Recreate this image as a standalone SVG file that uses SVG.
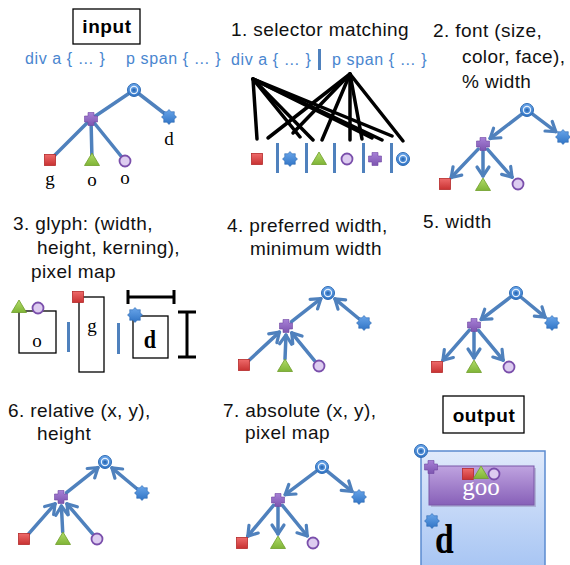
<svg xmlns="http://www.w3.org/2000/svg" width="570" height="565" viewBox="0 0 570 565">
<defs>
<style>
.h{font-family:"Liberation Sans",Arial,sans-serif;font-size:19px;letter-spacing:0.4px;fill:#111}
.b{font-family:"Liberation Sans",Arial,sans-serif;font-size:19px;font-weight:bold;letter-spacing:0.6px;fill:#000;text-anchor:middle}
.sel{font-family:"Liberation Sans",Arial,sans-serif;font-size:16px;letter-spacing:0.6px;fill:#4a86cf}
.lbl{font-family:"Liberation Serif","Times New Roman",serif;font-size:19px;fill:#000;text-anchor:middle}
.e{stroke:#4f81bd;stroke-width:3.5;fill:none;stroke-linecap:round}
.ea{marker-end:url(#ah)}
.m{stroke:#000;stroke-width:3.5;stroke-linecap:round}
.bar{fill:#4f81bd}
.box{fill:#fff;stroke:#000;stroke-width:1.3}
</style>
<marker id="ah" markerUnits="userSpaceOnUse" markerWidth="16" markerHeight="16" refX="12" refY="8" orient="auto" overflow="visible"><path d="M3,2 L12,8 L3,14" fill="none" stroke="#4f81bd" stroke-width="3.2" stroke-linecap="round" stroke-linejoin="round"/></marker>
<linearGradient id="gsq" x1="0" y1="0" x2="0" y2="1"><stop offset="0" stop-color="#ee6a6a"/><stop offset="1" stop-color="#c83232"/></linearGradient>
<linearGradient id="gtr" x1="0" y1="0" x2="0" y2="1"><stop offset="0" stop-color="#b2dc6a"/><stop offset="1" stop-color="#7fb436"/></linearGradient>
<linearGradient id="gcr" x1="0" y1="0" x2="0" y2="1"><stop offset="0" stop-color="#a780d6"/><stop offset="1" stop-color="#7d55b0"/></linearGradient>
<linearGradient id="gst" x1="0" y1="0" x2="0" y2="1"><stop offset="0" stop-color="#6aa6ea"/><stop offset="1" stop-color="#2f73c4"/></linearGradient>
<linearGradient id="gb" x1="0" y1="0" x2="0" y2="1"><stop offset="0" stop-color="#e0eafb"/><stop offset="1" stop-color="#a6c4f3"/></linearGradient>
<linearGradient id="gp" x1="0" y1="0" x2="0" y2="1"><stop offset="0" stop-color="#bfa3e0"/><stop offset="1" stop-color="#8760b8"/></linearGradient>
<g id="sq"><rect x="-5.5" y="-5.5" width="11" height="11" fill="url(#gsq)" stroke="#b52a2a" stroke-width="0.8"/></g>
<g id="tri"><polygon points="0,-7 7.5,5.5 -7.5,5.5" fill="url(#gtr)" stroke="#6e9e2a" stroke-width="0.8"/></g>
<g id="cir"><circle r="5.5" fill="#ddccf0" stroke="#7a4fab" stroke-width="1.8"/></g>
<g id="crs"><path d="M-3,-6.5 h6 v3.5 h3.5 v6 h-3.5 v3.5 h-6 v-3.5 h-3.5 v-6 h3.5z" fill="url(#gcr)" stroke="#6f47a3" stroke-width="0.6" stroke-linejoin="round"/></g>
<g id="str"><polygon points="0,-7.5 2.14,-5.17 5.3,-5.3 5.17,-2.14 7.5,0 5.17,2.14 5.3,5.3 2.14,5.17 0,7.5 -2.14,5.17 -5.3,5.3 -5.17,2.14 -7.5,0 -5.17,-2.14 -5.3,-5.3 -2.14,-5.17" fill="url(#gst)" stroke="#2a66b0" stroke-width="0.6"/></g>
<g id="tgt"><circle r="6.5" fill="url(#gst)" stroke="#2f6cb5" stroke-width="1"/><circle r="3.6" fill="none" stroke="#e6f0fb" stroke-width="1.2"/><circle r="1.6" fill="#2f6cb5"/></g>
</defs>

<g id="titles">
<text class="h" x="231" y="36">1. selector matching</text>
<text class="h" x="433" y="37">2. font (size,</text>
<text class="h" x="462" y="63">color, face),</text>
<text class="h" x="462" y="88">% width</text>
<text class="h" x="13" y="230">3. glyph: (width,</text>
<text class="h" x="37" y="254">height, kerning),</text>
<text class="h" x="31" y="278">pixel map</text>
<text class="h" x="227" y="232">4. preferred width,</text>
<text class="h" x="250" y="255">minimum width</text>
<text class="h" x="423" y="228">5. width</text>
<text class="h" x="8" y="417">6. relative (x, y),</text>
<text class="h" x="37" y="440">height</text>
<text class="h" x="223" y="417">7. absolute (x, y),</text>
<text class="h" x="245" y="439">pixel map</text>
</g>

<g id="input-label"><rect class="box" x="73" y="9" width="67" height="35"/><text class="b" x="107" y="33">input</text></g>
<g id="input-selectors"><text class="sel" x="25" y="64">div a { … }</text><text class="sel" x="126" y="64">p span { … }</text></g>

<g id="connectors">
<line class="e" stroke-width="4" x1="134" y1="90" x2="91" y2="119"/>
<line class="e" stroke-width="4" x1="134" y1="90" x2="169" y2="117"/>
<line class="e" stroke-width="4" x1="91" y1="119" x2="50" y2="160"/>
<line class="e" stroke-width="4" x1="91" y1="119" x2="92" y2="160"/>
<line class="e" stroke-width="4" x1="91" y1="119" x2="125" y2="161"/>
<line class="m" x1="253" y1="79" x2="257" y2="139"/>
<line class="m" x1="253" y1="79" x2="300" y2="137"/>
<line class="m" x1="253" y1="79" x2="313" y2="140"/>
<line class="m" x1="253" y1="79" x2="372" y2="138"/>
<line class="m" x1="253" y1="79" x2="382" y2="140"/>
<line class="m" x1="253" y1="79" x2="392" y2="136"/>
<line class="m" x1="350" y1="74" x2="268" y2="138"/>
<line class="m" x1="350" y1="74" x2="293" y2="133"/>
<line class="m" x1="350" y1="74" x2="322" y2="140"/>
<line class="m" x1="350" y1="74" x2="350" y2="140"/>
<line class="m" x1="350" y1="74" x2="362" y2="139"/>
<line class="m" x1="350" y1="74" x2="403" y2="141"/>
<line class="e ea" x1="521.5" y1="114.3" x2="490.1" y2="138.5"/>
<line class="e ea" x1="532.6" y1="114.2" x2="555.8" y2="131.6"/>
<line class="e ea" x1="478.2" y1="149.1" x2="451.2" y2="177.5"/>
<line class="e ea" x1="483" y1="151" x2="483" y2="176"/>
<line class="e ea" x1="487.6" y1="149.3" x2="512.1" y2="177.2"/>
<line class="e ea" x1="291.5" y1="321.7" x2="320.9" y2="298.6"/>
<line class="e ea" x1="358.6" y1="318.5" x2="334.9" y2="298.8"/>
<line class="e ea" x1="249.1" y1="360.2" x2="279.4" y2="332.1"/>
<line class="e ea" x1="285" y1="359" x2="286" y2="335"/>
<line class="e ea" x1="314.5" y1="360.6" x2="291.7" y2="332.9"/>
<line class="e ea" x1="510.4" y1="297.2" x2="481.2" y2="319.5"/>
<line class="e ea" x1="521.4" y1="297.5" x2="545.1" y2="317.2"/>
<line class="e ea" x1="469.4" y1="330.2" x2="442.9" y2="360.3"/>
<line class="e ea" x1="474" y1="332" x2="474" y2="358"/>
<line class="e ea" x1="478.5" y1="330.4" x2="503.2" y2="360.1"/>
<line class="e ea" x1="66.5" y1="492.6" x2="98" y2="467.6"/>
<line class="e ea" x1="136.6" y1="488.5" x2="111.9" y2="467.8"/>
<line class="e ea" x1="28.6" y1="533.8" x2="55.1" y2="503.8"/>
<line class="e ea" x1="62.7" y1="532" x2="61.4" y2="506"/>
<line class="e ea" x1="92.4" y1="533.7" x2="66.9" y2="503.8"/>
<line class="e ea" x1="316.4" y1="471.2" x2="285.2" y2="494.6"/>
<line class="e ea" x1="327.4" y1="471.4" x2="352" y2="491.3"/>
<line class="e ea" x1="273.5" y1="505.4" x2="247.8" y2="536.1"/>
<line class="e ea" x1="278" y1="507" x2="278" y2="534"/>
<line class="e ea" x1="282.4" y1="505.4" x2="307.3" y2="536"/>
</g>

<g id="tree-input">
<use href="#tgt" x="134" y="90"/><use href="#crs" x="91" y="119"/><use href="#str" x="169" y="117"/>
<use href="#sq" x="50" y="160"/><use href="#tri" x="92" y="160"/><use href="#cir" x="125" y="161"/>
<text class="lbl" x="169" y="145" font-size="20">d</text><text class="lbl" x="50" y="185" font-size="20">g</text><text class="lbl" x="92" y="186" font-size="20">o</text><text class="lbl" x="125" y="184" font-size="20">o</text>
</g>

<g id="selector-matching">
<text class="sel" x="231" y="65">div a { … }</text>
<rect class="bar" x="318" y="49" width="3" height="21"/>
<text class="sel" x="332" y="65">p span { … }</text>
<use href="#sq" x="257" y="159"/><rect class="bar" x="276" y="143" width="3" height="30"/>
<use href="#str" x="290" y="159"/><rect class="bar" x="305" y="143" width="3" height="30"/>
<use href="#tri" x="319" y="159"/><rect class="bar" x="333" y="143" width="3" height="30"/>
<use href="#cir" x="347" y="159"/><rect class="bar" x="362" y="143" width="3" height="30"/>
<use href="#crs" x="375" y="159"/><rect class="bar" x="390" y="143" width="3" height="30"/>
<use href="#tgt" x="403" y="159"/>
</g>

<g id="tree-font">
<use href="#tgt" x="527" y="110"/><use href="#crs" x="483" y="144"/><use href="#str" x="563" y="137"/>
<use href="#sq" x="445" y="184"/><use href="#tri" x="483" y="185"/><use href="#cir" x="518" y="184"/>
</g>

<g id="glyphs">
<rect class="box" x="19" y="311" width="37" height="42"/>
<text class="lbl" x="37" y="347" font-size="28">o</text>
<use href="#tri" x="19" y="307"/><use href="#cir" x="38" y="308"/>
<rect class="bar" x="67" y="322" width="3" height="30"/>
<rect class="box" x="79" y="297" width="25" height="75"/>
<text class="lbl" x="92" y="332" font-size="30">g</text>
<use href="#sq" x="78" y="297"/>
<rect class="bar" x="117" y="323" width="3" height="31"/>
<rect class="box" x="133" y="316" width="35" height="42"/>
<text transform="translate(150,348) scale(0.85,1)" font-family="'Liberation Serif','Times New Roman',serif" font-size="26" font-weight="bold" text-anchor="middle">d</text>
<use href="#str" x="135" y="315"/>
<path d="M128,297 H174 M128,290 V304 M174,290 V304" stroke="#000" stroke-width="3" fill="none"/>
<path d="M187,312 V357 M178,312 H196 M178,357 H196" stroke="#000" stroke-width="3" fill="none"/>
</g>

<g id="tree-prefwidth">
<use href="#tgt" x="328" y="293"/><use href="#crs" x="286" y="326"/><use href="#str" x="364" y="323"/>
<use href="#sq" x="244" y="365"/><use href="#tri" x="285" y="366"/><use href="#cir" x="319" y="366"/>
</g>

<g id="tree-width">
<use href="#tgt" x="516" y="293"/><use href="#crs" x="474" y="325"/><use href="#str" x="552" y="323"/>
<use href="#sq" x="437" y="367"/><use href="#tri" x="474" y="367"/><use href="#cir" x="509" y="367"/>
</g>

<g id="tree-relative">
<use href="#tgt" x="105" y="462"/><use href="#crs" x="61" y="497"/><use href="#str" x="142" y="493"/>
<use href="#sq" x="24" y="539"/><use href="#tri" x="63" y="539"/><use href="#cir" x="97" y="539"/>
</g>

<g id="tree-absolute">
<use href="#tgt" x="322" y="467"/><use href="#crs" x="278" y="500"/><use href="#str" x="359" y="497"/>
<use href="#sq" x="242" y="543"/><use href="#tri" x="278" y="543"/><use href="#cir" x="313" y="543"/>
</g>

<g id="output-label"><rect class="box" x="443" y="396" width="81" height="37"/><text class="b" x="484" y="422">output</text></g>

<g id="output-render">
<rect x="421" y="451" width="124" height="120" fill="url(#gb)" stroke="#5b8bd0" stroke-width="1.5"/>
<rect x="431" y="468" width="105" height="39" fill="#7a6a9a" opacity="0.35"/>
<rect x="429" y="466" width="105" height="39" fill="url(#gp)" stroke="#7a58a8" stroke-width="1"/>
<use href="#crs" x="431" y="467"/>
<use href="#sq" x="468" y="474"/><use href="#tri" x="481" y="473"/><use href="#cir" x="494" y="474"/>
<text x="481" y="495" font-family="'Liberation Serif','Times New Roman',serif" font-size="25" fill="#fff" text-anchor="middle">goo</text>
<use href="#str" x="432" y="521"/>
<text transform="translate(435,553) scale(0.8,1)" font-family="'Liberation Serif','Times New Roman',serif" font-size="42" font-weight="bold" fill="#000">d</text>
<use href="#tgt" x="421" y="451"/>
</g>
</svg>
